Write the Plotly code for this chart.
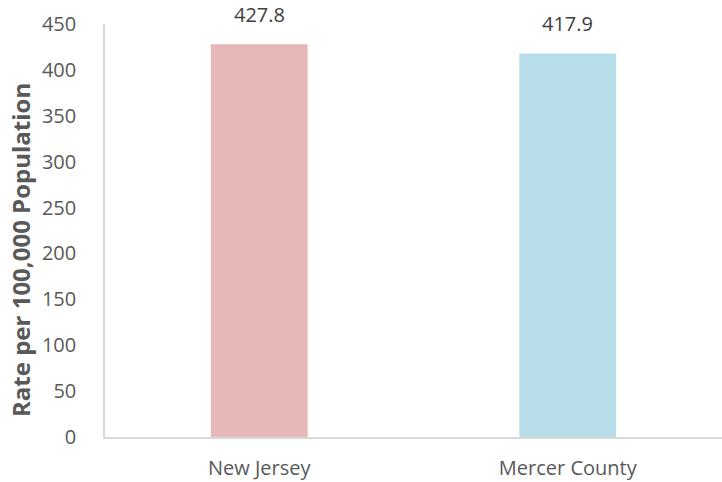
import plotly.graph_objects as go

# Rate per 100,000 population by area
areas = ["New Jersey", "Mercer County"]
rates = [427.8, 417.9]
bar_colors = ["#E6B8B7", "#B7DEE8"]
y_ticks = [0, 50, 100, 150, 200, 250, 300, 350, 400, 450]

FONT = "Open Sans, sans-serif"

fig = go.Figure(
    go.Bar(
        x=areas,
        y=rates,
        marker=dict(color=bar_colors, line=dict(width=0)),
        width=0.314,
        hoverinfo="x+y",
    )
)

# value labels above each bar
for area, v in zip(areas, rates):
    fig.add_annotation(
        x=area,
        y=v,
        text=f"{v:.1f}",
        showarrow=False,
        yanchor="bottom",
        yshift=14,
        font=dict(family=FONT, size=20, color="#404040"),
    )

# vertical axis title
fig.add_annotation(
    xref="paper",
    yref="paper",
    x=-0.136,
    y=0.453,
    xanchor="center",
    yanchor="middle",
    text="<b>Rate per 100,000 Population</b>",
    textangle=-90,
    showarrow=False,
    font=dict(family=FONT, size=24, color="#595959"),
)

fig.update_layout(
    width=722,
    height=482,
    margin=dict(l=105, r=0, t=24, b=45),
    paper_bgcolor="white",
    plot_bgcolor="white",
    showlegend=False,
    font=dict(family=FONT, color="#595959"),
)

fig.update_yaxes(
    range=[0, 450],
    tickvals=y_ticks,
    tickfont=dict(size=20, color="#595959"),
    showgrid=False,
    zeroline=False,
    showline=True,
    linecolor="#D9D9D9",
    linewidth=1.5,
    ticks="",
    ticklabelstandoff=23,
)

fig.update_xaxes(
    showgrid=False,
    showline=True,
    linecolor="#D9D9D9",
    linewidth=1.5,
    ticks="",
    tickfont=dict(size=20, color="#595959"),
    ticklabelstandoff=12,
)

fig.write_html("out.html")
